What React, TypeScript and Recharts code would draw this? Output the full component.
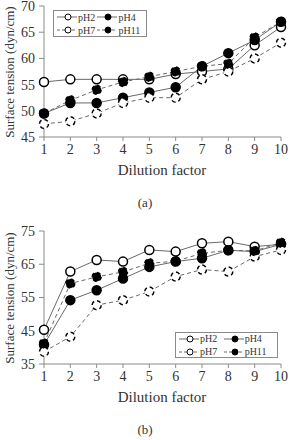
import React from "react";
import { LineChart, Line, XAxis, YAxis } from "recharts";

const dilution = [1, 2, 3, 4, 5, 6, 7, 8, 9, 10];

// panel (a)
const aPH2 = [55.5, 56, 56, 56, 56, 57, 57.5, 58, 62.5, 66];
const aPH4 = [49.5, 51.5, 51.5, 52.5, 53.5, 54.5, 58.5, 61, 63.5, 67];
const aPH7 = [47.5, 48, 49.5, 51.5, 52.5, 52.5, 56, 57.5, 60, 63];
const aPH11 = [49.5, 52, 54, 55.5, 56.5, 57.5, 58.5, 59, 64, 67];
const aTicks = [45, 50, 55, 60, 65, 70];

// panel (b)
const bPH2 = [45.3, 62.8, 66.3, 65.8, 69.3, 68.8, 71.3, 71.8, 70.3, 71];
const bPH4 = [40.8, 54.2, 57.2, 60.7, 64.2, 65.8, 66.8, 69.2, 68.8, 71];
const bPH7 = [38.7, 43.2, 52.7, 54.2, 56.8, 61.3, 63.4, 62.8, 67.3, 69.3];
const bPH11 = [41.2, 59.2, 61.2, 62.7, 65.3, 65.9, 68.3, 69.2, 69, 71.5];
const bTicks = [35, 45, 55, 65, 75];

const FONT = '"Liberation Serif", "Times New Roman", Times, serif';
const FRAME = "#8a8a8a";
const LINE = "#6a6a6a";
const INK = "#333";

const series = [
  { key: "pH2", filled: false, dashed: false },
  { key: "pH4", filled: true, dashed: false },
  { key: "pH7", filled: false, dashed: true },
  { key: "pH11", filled: true, dashed: true },
];

function buildRows(p2: number[], p4: number[], p7: number[], p11: number[]) {
  return dilution.map((d, i) => ({ x: d, pH2: p2[i], pH4: p4[i], pH7: p7[i], pH11: p11[i] }));
}

function LegendBox({ left, top, width, height }: { left: number; top: number; width: number; height: number }) {
  return (
    <div
      style={{
        position: "absolute",
        left,
        top,
        width,
        height,
        border: `1px solid ${FRAME}`,
        background: "#fff",
        display: "grid",
        gridTemplateColumns: "47% 53%",
        alignContent: "center",
        rowGap: 2,
        padding: "0 3px",
        fontFamily: FONT,
        fontSize: 10,
        color: INK,
        boxSizing: "border-box",
      }}
    >
      {series.map((s) => (
        <div key={s.key} style={{ display: "flex", alignItems: "center", height: 11 }}>
          <svg width={20} height={10} style={{ marginRight: 1, flexShrink: 0 }}>
            <line x1={0} y1={5} x2={20} y2={5} stroke={LINE} strokeDasharray={s.dashed ? "3 2" : undefined} />
            <circle cx={11} cy={5} r={3} fill={s.filled ? "#000" : "#fff"} stroke="#000" />
          </svg>
          <span>{s.key}</span>
        </div>
      ))}
    </div>
  );
}

type PanelProps = {
  rows: ReturnType<typeof buildRows>;
  domain: [number, number];
  ticks: number[];
  xHeight: number;
};

function Panel({ rows, domain, ticks, xHeight }: PanelProps) {
  const tickStyle = { fontFamily: FONT, fontSize: 14, fill: INK };
  return (
    <LineChart width={291} height={190} data={rows} margin={{ top: 6, right: 10, bottom: 0, left: 0 }}>
      <XAxis
        dataKey="x"
        type="number"
        domain={[1, 10]}
        ticks={dilution}
        height={xHeight}
        tickSize={4}
        tickMargin={3}
        tick={tickStyle}
        axisLine={{ stroke: FRAME }}
        tickLine={{ stroke: FRAME }}
        interval={0}
      />
      {/* top and right edges close the frame */}
      <XAxis xAxisId="top" dataKey="x" type="number" domain={[1, 10]} orientation="top" height={0} tick={false} tickLine={false} axisLine={{ stroke: FRAME }} />
      <YAxis
        domain={domain}
        ticks={ticks}
        width={44}
        tickSize={5}
        tickMargin={4}
        tick={tickStyle}
        axisLine={{ stroke: FRAME }}
        tickLine={{ stroke: FRAME }}
        interval={0}
      />
      <YAxis yAxisId="right" orientation="right" domain={domain} width={0} tick={false} tickLine={false} axisLine={{ stroke: FRAME }} />
      {series.map((s) => (
        <Line
          key={s.key}
          dataKey={s.key}
          stroke={LINE}
          strokeWidth={1}
          strokeDasharray={s.dashed ? "4 3" : undefined}
          dot={{ r: 4.5, fill: s.filled ? "#000" : "#fff", stroke: "#000", strokeWidth: 1.5 }}
          isAnimationActive={false}
        />
      ))}
    </LineChart>
  );
}

const textStyle: React.CSSProperties = {
  position: "absolute",
  fontFamily: FONT,
  color: INK,
  whiteSpace: "nowrap",
  transform: "translate(-50%, -50%)",
};

export default function App() {
  const rowsA = buildRows(aPH2, aPH4, aPH7, aPH11);
  const rowsB = buildRows(bPH2, bPH4, bPH7, bPH11);
  return (
    <div style={{ position: "absolute", left: 0, top: 0, width: 291, height: 440, background: "#fff" }}>
      <div style={{ position: "absolute", left: 0, top: 0 }}>
        <Panel rows={rowsA} domain={[45, 70]} ticks={aTicks} xHeight={53} />
      </div>
      <LegendBox left={53} top={10} width={94} height={27} />

      <div style={{ position: "absolute", left: 0, top: 225 }}>
        <Panel rows={rowsB} domain={[35, 75]} ticks={bTicks} xHeight={51} />
      </div>
      <LegendBox left={175} top={332} width={103} height={26} />

      <div style={{ ...textStyle, left: 10, top: 72, fontSize: 13, transform: "translate(-50%, -50%) rotate(-90deg)" }}>
        Surface tension (dyn/cm)
      </div>
      <div style={{ ...textStyle, left: 162, top: 170, fontSize: 15 }}>Dilution factor</div>
      <div style={{ ...textStyle, left: 145, top: 203, fontSize: 13 }}>(a)</div>

      <div style={{ ...textStyle, left: 10, top: 298, fontSize: 13, transform: "translate(-50%, -50%) rotate(-90deg)" }}>
        Surface tension (dyn/cm)
      </div>
      <div style={{ ...textStyle, left: 162, top: 397, fontSize: 15 }}>Dilution factor</div>
      <div style={{ ...textStyle, left: 145, top: 430, fontSize: 13 }}>(b)</div>
    </div>
  );
}
